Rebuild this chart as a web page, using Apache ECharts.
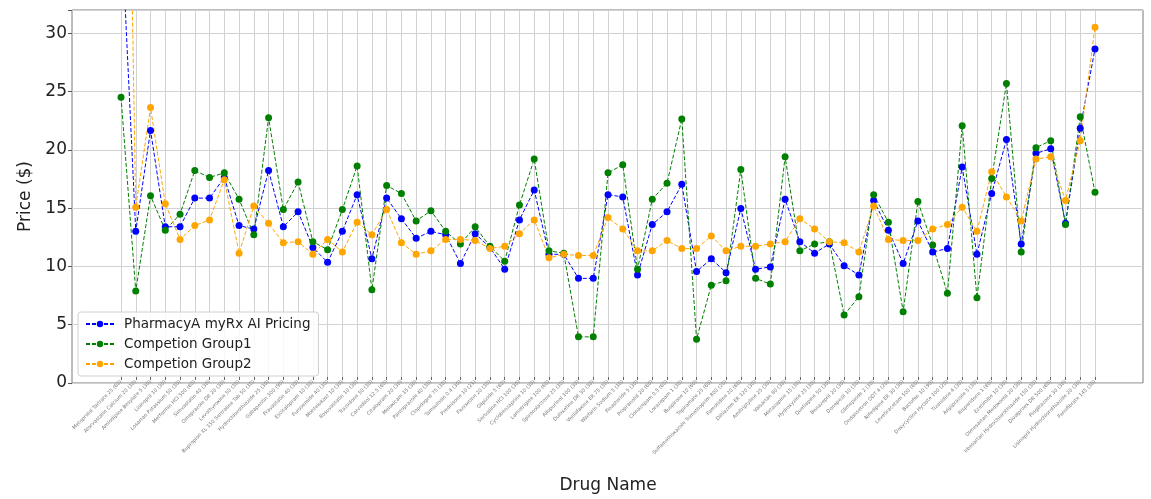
<!DOCTYPE html>
<html>
<head>
<meta charset="utf-8">
<script src="https://cdn.jsdelivr.net/npm/echarts@6/dist/echarts.min.js"></script>
<style>
html,body{margin:0;padding:0;background:#fff;}
#chart{width:1151px;height:499px;}
</style>
</head>
<body>
<div id="chart"></div>
<script>
const drugNames = [
  "Metoprolol Tartrate 25 (60)", "Atorvastatin Calcium 20 (30)", "Amlodipine Besylate 5 (30)", "Lisinopril 10 (30)",
  "Losartan Potassium 50 (30)", "Metformin HCl 500 (60)", "Simvastatin 40 (30)", "Omeprazole DR 20 (30)",
  "Levothyroxine 50 (30)", "Bupropion XL 150 Sertraline Tab 50 (30)", "Hydrochlorothiazide 25 (30)", "Gabapentin 300 (90)",
  "Pravastatin 40 (30)", "Escitalopram 10 (30)", "Furosemide 40 (30)", "Montelukast 10 (30)",
  "Rosuvastatin 10 (30)", "Trazodone 50 (30)", "Carvedilol 12.5 (60)", "Citalopram 20 (30)",
  "Meloxicam 15 (30)", "Pantoprazole 40 (30)", "Clopidogrel 75 (30)", "Tamsulosin 0.4 (30)",
  "Prednisone 10 (21)", "Fluoxetine 20 (30)", "Glipizide 5 (60)", "Sertraline HCl 100 (30)",
  "Cyclobenzaprine 10 (30)", "Lamotrigine 100 (60)", "Spironolactone 25 (30)", "Allopurinol 100 (30)",
  "Duloxetine DR 30 (30)", "Venlafaxine ER 75 (30)", "Warfarin Sodium 5 (30)", "Finasteride 5 (30)",
  "Propranolol 20 (60)", "Clonazepam 0.5 (60)", "Lorazepam 1 (30)", "Buspirone 10 (60)",
  "Topiramate 25 (60)", "Sulfamethoxazole Trimethoprim 800 (20)", "Famotidine 20 (60)", "Diltiazem ER 120 (30)",
  "Amitriptyline 25 (30)", "Valsartan 80 (30)", "Mirtazapine 15 (30)", "Hydroxyzine 25 (30)",
  "Quetiapine 50 (30)", "Benazepril 20 (30)", "Donepezil 10 (30)", "Glimepiride 2 (30)",
  "Ondansetron ODT 4 (20)", "Nifedipine ER 30 (30)", "Levetiracetam 500 (60)", "Baclofen 10 (90)",
  "Doxycycline Hyclate 100 (20)", "Tizanidine 4 (30)", "Aripiprazole 5 (30)", "Risperidone 1 (60)",
  "Ezetimibe 10 (30)", "Olmesartan Medoxomil 20 (30)", "Irbesartan Hydrochlorothiazide 150 (30)", "Divalproex DR 500 (60)",
  "Pioglitazone 30 (30)", "Lisinopril Hydrochlorothiazide 20 (30)", "Fenofibrate 145 (30)"
];

const pharmacyA = [
  40, 12.7, 21.5, 13.1, 13.1, 15.6, 15.6, 17.4, 13.2, 12.9,
  18.0, 13.1, 14.4, 11.3, 10.0, 12.7, 15.9, 10.3, 15.6, 13.8,
  12.1, 12.7, 12.4, 9.9, 12.5, 11.3, 9.4, 13.7, 16.3, 10.7,
  10.7, 8.6, 8.6, 15.9, 15.7, 8.9, 13.3, 14.4, 16.8, 9.2,
  10.3, 9.1, 14.7, 9.4, 9.6, 15.5, 11.8, 10.8, 11.6, 9.7,
  8.9, 15.4, 12.8, 9.9, 13.6, 10.9, 11.2, 18.3, 10.7, 16.0,
  20.7, 11.6, 19.5, 19.9, 13.4, 21.7, 28.6
];

const group1 = [
  24.4, 7.5, 15.8, 12.8, 14.2, 18.0, 17.4, 17.8, 15.5, 12.4,
  22.6, 14.6, 17.0, 11.8, 11.1, 14.6, 18.4, 7.6, 16.7, 16.0,
  13.6, 14.5, 12.7, 11.6, 13.1, 11.4, 10.1, 15.0, 19.0, 11.0,
  10.8, 3.5, 3.5, 17.8, 18.5, 9.4, 15.5, 16.9, 22.5, 3.3,
  8.0, 8.4, 18.1, 8.6, 8.1, 19.2, 11.0, 11.6, 11.8, 5.4,
  7.0, 15.9, 13.5, 5.7, 15.3, 11.5, 7.3, 21.9, 6.9, 17.3,
  25.6, 10.9, 20.0, 20.6, 13.3, 22.7, 16.1
];

const group2 = [
  90, 14.8, 23.5, 15.1, 12.0, 13.2, 13.7, 17.2, 10.8, 14.9,
  13.4, 11.7, 11.8, 10.7, 12.0, 10.9, 13.5, 12.4, 14.6, 11.7,
  10.7, 11.0, 12.0, 12.0, 11.9, 11.2, 11.4, 12.5, 13.7, 10.4,
  10.7, 10.6, 10.6, 13.9, 12.9, 11.0, 11.0, 11.9, 11.2, 11.2,
  12.3, 11.0, 11.4, 11.4, 11.6, 11.8, 13.8, 12.9, 11.8, 11.7,
  10.9, 14.9, 12.0, 11.9, 11.9, 12.9, 13.3, 14.8, 12.7, 17.9,
  15.7, 13.6, 19.0, 19.2, 15.4, 20.6, 30.5
];

const seriesNames = ["PharmacyA myRx AI Pricing", "Competion Group1", "Competion Group2"];
const yTicks = [0, 5, 10, 15, 20, 25, 30];

const FONT = "DejaVu Sans";
const chart = echarts.init(document.getElementById('chart'), null, {renderer: 'canvas'});

function lineSeries(name, data, color) {
  return {
    name: name,
    type: 'line',
    xAxisIndex: 1,
    yAxisIndex: 1,
    data: data,
    symbol: 'circle',
    symbolSize: 7,
    showAllSymbol: true,
    clip: true,
    animation: false,
    itemStyle: {color: color},
    lineStyle: {color: color, width: 1, type: [4, 2]}
  };
}

const option = {
  animation: false,
  backgroundColor: '#ffffff',
  textStyle: {fontFamily: FONT},
  grid: [
    {left: 72, right: 8, top: 10, bottom: 116, show: true, borderColor: '#7a7a7a', borderWidth: 1, backgroundColor: 'transparent', z: 0},
    {left: 121, right: 56, top: 10, bottom: 116, show: false}
  ],
  xAxis: [
    {gridIndex: 0, type: 'value', min: 0, max: 1, show: false},
    {
      gridIndex: 1, type: 'category', data: drugNames, boundaryGap: false,
      name: 'Drug Name', nameLocation: 'middle', nameGap: 100,
      nameTextStyle: {fontSize: 17, color: '#222', fontFamily: FONT},
      axisLine: {show: false},
      axisTick: {show: true, interval: 0, length: 3, lineStyle: {color: '#666'}},
      axisLabel: {interval: 0, rotate: 45, fontSize: 5, color: '#777', margin: 4, fontFamily: FONT},
      splitLine: {show: true, interval: 0, lineStyle: {color: '#d2d2d2', width: 1}}
    }
  ],
  yAxis: [
    {
      gridIndex: 0, type: 'value', min: 0, max: 32, interval: 5,
      name: 'Price ($)', nameLocation: 'middle', nameGap: 33,
      nameTextStyle: {fontSize: 17, color: '#222', fontFamily: FONT},
      axisLine: {show: false},
      axisTick: {show: true, length: 4, lineStyle: {color: '#555'}},
      axisLabel: {
        fontSize: 17, color: '#222', margin: 5, fontFamily: FONT,
        formatter: function (v) { return yTicks.indexOf(v) >= 0 ? String(v) : ''; }
      },
      splitLine: {show: true, lineStyle: {color: '#d2d2d2', width: 1}}
    },
    {gridIndex: 1, type: 'value', min: 0, max: 32, show: false}
  ],
  legend: {
    orient: 'vertical',
    left: 78, top: 312,
    padding: [5, 8, 5, 7],
    itemWidth: 28, itemHeight: 8, itemGap: 6,
    backgroundColor: 'rgba(255,255,255,0.85)',
    borderColor: '#d0d0d0', borderWidth: 1, borderRadius: 3,
    textStyle: {fontSize: 13.5, color: '#222', lineHeight: 14, fontFamily: FONT, padding: [0, 0, 0, 5]},
    data: seriesNames
  },
  series: [
    lineSeries(seriesNames[0], pharmacyA, '#0000ff'),
    lineSeries(seriesNames[1], group1, '#008000'),
    lineSeries(seriesNames[2], group2, '#ffa500')
  ]
};
chart.setOption(option);
</script>
</body>
</html>
